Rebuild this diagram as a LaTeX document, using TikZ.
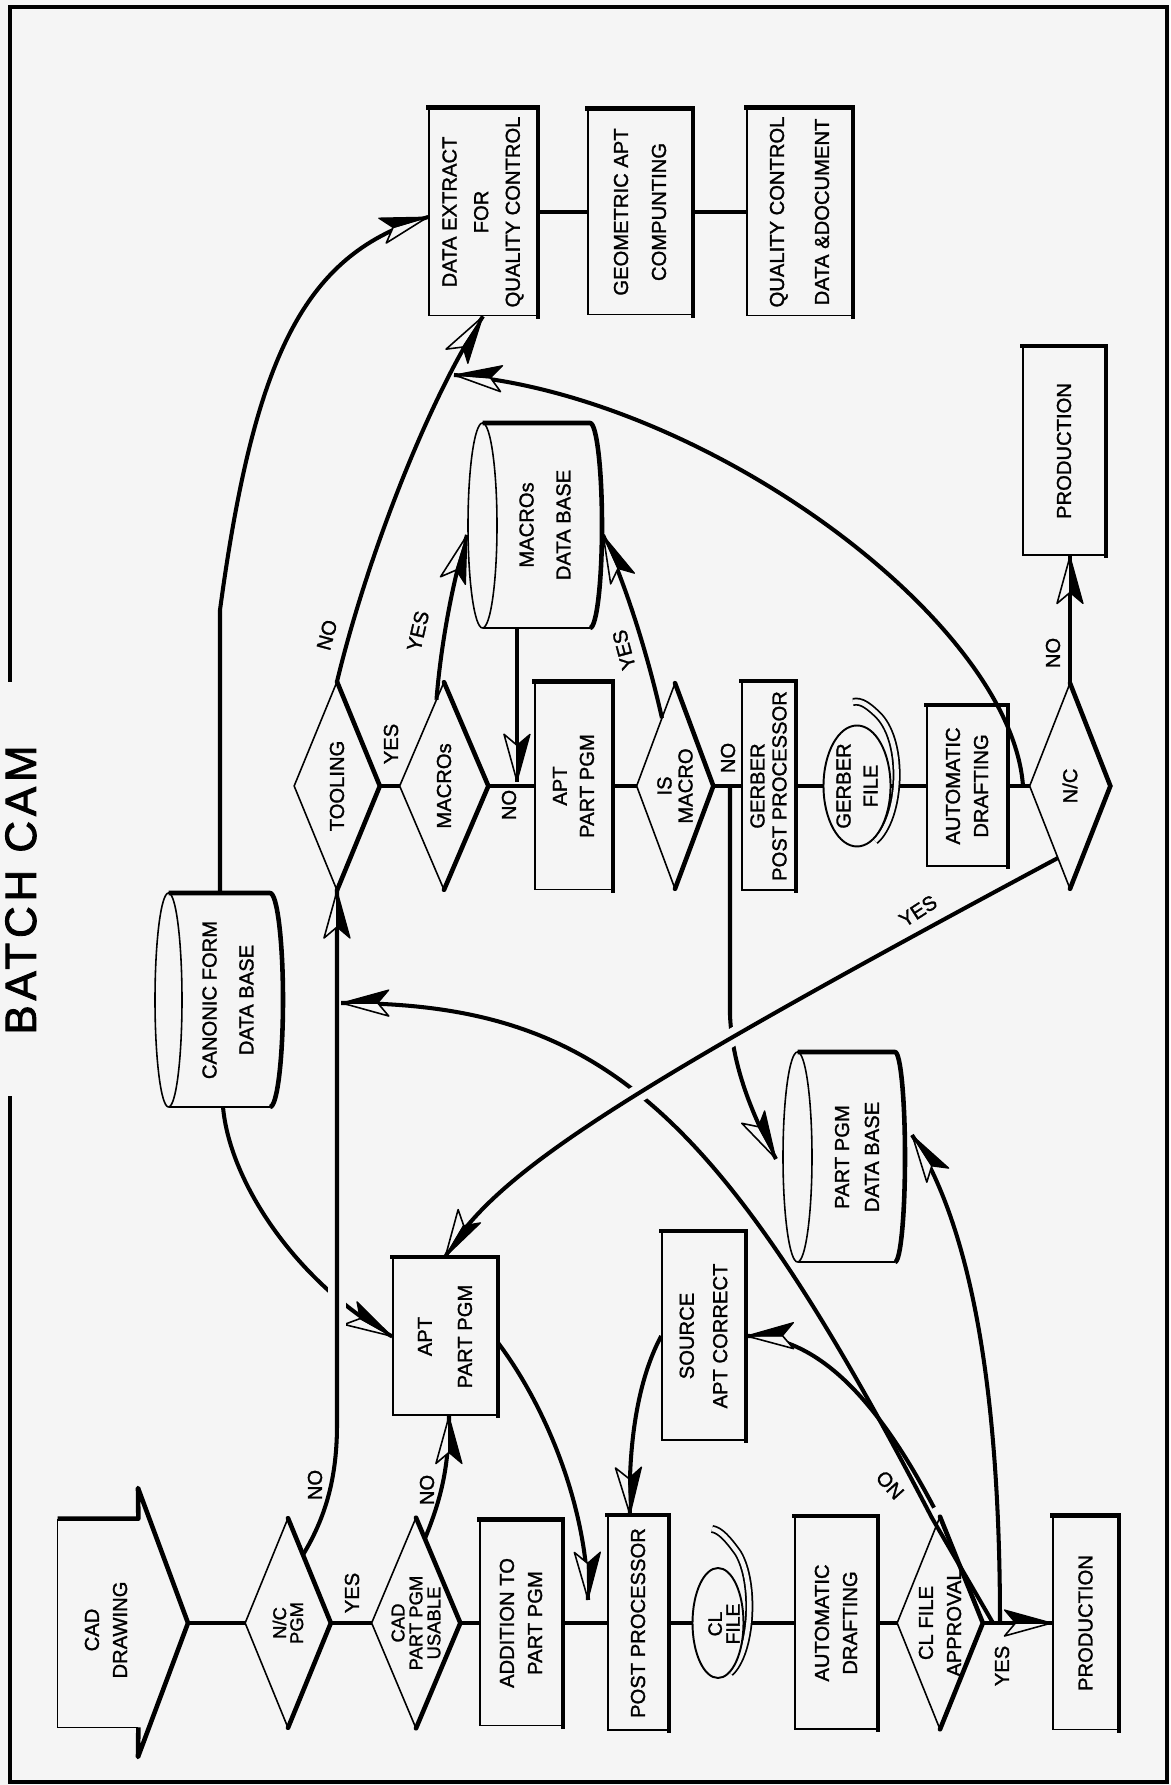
\documentclass[tikz,border=0pt]{standalone}
\usepackage{fontspec}
\setmainfont{Liberation Sans}[FakeBold=1.4]
\newfontfamily\titlefont[LetterSpace=11,FakeBold=2]{Liberation Sans}
\usetikzlibrary{calc,shapes.geometric,decorations.markings}
\pgfdeclarelayer{paperlayer}
\pgfdeclarelayer{bg}
\pgfsetlayers{paperlayer,bg,main}
\colorlet{paper}{white!96!black}
\newcommand\fsz[2]{\fontsize{#1}{#2}\selectfont}
% drum-shaped data base: U1, U2, centre of the top ellipse, its half height, end of the sides, depth of the bottom bulge
\newcommand\dbdrum[6]{%
  \draw[thn] ({(#1+#2)/2},#3) ellipse [x radius={(#2-#1)/2*0.02cm}, y radius={#4*0.02cm}];
  \draw[thn] (#1,#3) -- (#1,#5);
  \draw[thk, line join=round] (#2,#3) -- (#2,#5) arc [start angle=0, end angle=-180, x radius={(#2-#1)/2*0.02cm}, y radius={#6*0.02cm}];
}
\tikzset{
  thn/.style={line width=0.9pt},
  thk/.style={line width=2.6pt},
  conn/.style={line width=2.6pt},
  crv/.style={line width=2.3pt},
  halo/.style={preaction={draw=paper, line width=10pt}},
  txt/.style={inner sep=0pt, align=center, font=\fsz{11.5}{17}},
  frm/.style 2 args={txt, minimum width=#1*0.02cm, minimum height=#2*0.02cm},
  box/.style 2 args={frm={#1}{#2}, draw, thn},
  reel/.style 2 args={ellipse, draw, line width=1.1pt, fill=paper, inner sep=0pt,
    minimum width=#1*0.02cm, minimum height=#2*0.02cm},
  band/.style={draw=black, double=paper, double distance=0.09cm, line width=1pt},
  lbl/.style={txt, font=\fsz{11.5}{12}},
  blackhalf/.style={fill=black, draw=black, line width=0.7pt, line join=round},
  whitehalf/.style={fill=paper, draw=black, line width=0.9pt, line join=round},
  % dart heads: one half solid, the other open
  aL/.style={postaction={decorate, decoration={markings, mark=at position -0.4pt with {
      \path[whitehalf] (0,0) -- (-36,0) -- (-47,-13) -- cycle;
      \path[blackhalf] (0,0) -- (-47,13) -- (-36,0) -- cycle;}}}},
  aR/.style={postaction={decorate, decoration={markings, mark=at position -0.4pt with {
      \path[whitehalf] (0,0) -- (-36,0) -- (-47,13) -- cycle;
      \path[blackhalf] (0,0) -- (-47,-13) -- (-36,0) -- cycle;}}}},
}
\begin{document}
\begin{tikzpicture}[x=0.02cm, y=0.02cm]
\useasboundingbox (0,0) rectangle (1170,1785);
\begin{pgfonlayer}{paperlayer}
  \fill[paper] (0,0) rectangle (1170,1785);
\end{pgfonlayer}
\begin{scope}[shift={(1170,0)}, rotate=90, transform shape]

% border with the title set into its upper edge
\draw[thk, line cap=rect] (687,1160) -- (3,1160) -- (3,3) -- (1778,3) -- (1778,1160) -- (1105,1160);
\node[txt, font=\titlefont\fsz{25}{25}, anchor=base] (title) at (895,1134) {BATCH CAM};

% ---------------- main flow
\node[frm={208}{80}] (cad) at (162,1072) {};
\node[txt, font=\fsz{11.5}{16}] (cadtxt) at (155,1064) {CAD\\DRAWING};
\coordinate (cadtip) at (162,982);
\draw[thn] (cad.south west) -- (cad.north west) -- (cad.north east);
\draw[thk, line join=round] (cad.north east) -- (cad.south east) -- (297,1032) -- (cadtip) -- (28,1032) -- (cad.south west);

\node[frm={209}{85}, font=\fsz{10.5}{9.7}] (ncpgm) at (162,882) {N/C\\PGM};
\node[frm={210}{88}, font=\fsz{10.5}{10.2}] (usable) at (162,754) {CAD\\PART PGM\\USABLE};
\node[box={205}{82}, font=\fsz{11.5}{16}] (addition) at (162,649) {ADDITION TO\\PART PGM};
\node[box={214}{60}] (post) at (162,532) {POST PROCESSOR};
\coordinate (clc) at (162,452);
\draw[band] ($(clc)+(-50,-12)$) .. controls ($(clc)+(-30,-34)$) and ($(clc)+(40,-38)$) .. ($(clc)+(70,-20)$)
   .. controls ($(clc)+(84,-10)$) and ($(clc)+(93,-2)$) .. ($(clc)+(94,6)$);
\node[reel={110}{51}] (clfile) at (clc) {};
\node[txt, font=\fsz{11}{10.2}] (cltxt) at ($(clc)+(-1,-6)$) {CL\\FILE};
\node[box={212}{82}, font=\fsz{11.5}{16}] (draftL) at (162,334) {AUTOMATIC\\DRAFTING};
\node[frm={212}{85}, font=\fsz{11.5}{16}] (appr) at (162,230) {CL FILE\\APPROVAL};
\node[box={213}{65}] (prodL) at (162,84.5) {PRODUCTION};

% ---------------- middle
\node[box={157}{104}, font=\fsz{11.5}{22.8}] (aptL) at (448.5,725) {APT\\PART PGM};
\node[box={208}{83}, font=\fsz{11.5}{19}] (src) at (449,466.5) {SOURCE\\APT CORRECT};
\dbdrum{523}{733}{372.5}{14.5}{275}{10}
\node[txt] (pdb) at (628,313) {PART PGM\\DATA BASE};
\dbdrum{678}{892}{1001.5}{13.5}{900}{13}
\node[txt, font=\fsz{11.5}{21}] (cdb) at (785,942) {CANONIC FORM\\DATA BASE};

% ---------------- second flow
\node[frm={208}{85}] (tool) at (999,833) {TOOLING};
\node[frm={207}{88}] (macros) at (999,726) {MACROs};
\dbdrum{1157}{1362}{687.5}{14.5}{580}{12}
\node[txt, font=\fsz{11.5}{21}] (mdb) at (1260,625) {MACROs\\DATA BASE};
\node[box={207}{77}, font=\fsz{11.5}{15.4}] (aptU) at (999,596.5) {APT\\PART PGM};
\node[frm={205}{76}, font=\fsz{11.5}{12}] (ismacro) at (999,495) {IS\\MACRO};
\node[box={208}{53}, font=\fsz{11.5}{12.5}] (gerber) at (999,401.5) {GERBER\\POST PROCESSOR};
\coordinate (gc) at (999,313);
\draw[band] ($(gc)+(-55,-18)$) .. controls ($(gc)+(-32,-44)$) and ($(gc)+(42,-48)$) .. ($(gc)+(70,-22)$)
   .. controls ($(gc)+(80,-12)$) and ($(gc)+(86,-4)$) .. ($(gc)+(84,4)$);
\node[reel={121}{67}] (gfile) at (gc) {};
\node[txt, font=\fsz{11.5}{15.4}] (gtxt) at (gc) {GERBER\\FILE};
\node[box={160}{80}, font=\fsz{11.5}{16}] (draftU) at (999,203) {AUTOMATIC\\DRAFTING};
\node[frm={205}{80}] (nc) at (999,100) {N/C};
\node[box={208}{82}] (prodU) at (1334,106) {PRODUCTION};

% ---------------- quality control branch
\node[box={207}{108}, font=\fsz{11.5}{18}] (dext) at (1573,687) {DATA EXTRACT\\FOR\\QUALITY CONTROL};
\node[box={205}{104}, font=\fsz{11.5}{21.6}] (geo) at (1573,530) {GEOMETRIC APT\\COMPUNTING};
\node[box={207}{105}, font=\fsz{11.5}{25.6}] (qc) at (1573,370.5) {QUALITY CONTROL\\DATA \&DOCUMENT};

% decision outlines, heavier on the shadow side
\foreach \n in {ncpgm,usable,appr,tool,macros,ismacro,nc}{
  \draw[thn] (\n.north) -- (\n.east) -- (\n.south) -- (\n.west) -- cycle;
  \draw[thk, line cap=round] (\n.east) -- (\n.south) -- (\n.west);
}
\foreach \n in {addition,post,draftL,prodL,aptL,src,aptU,gerber,draftU,prodU,dext,geo,qc}{
  \draw[thk, line cap=rect] (\n.north east) -- (\n.south east) -- (\n.south west);
}

% branch labels
\node[lbl] (t1) at (192,818) {YES};
\node[lbl] (t2) at (300,855) {NO};
\node[lbl] (t3) at (295,743) {NO};
\node[lbl] (t4) at (119,168) {YES};
\node[lbl, rotate=42] (t5) at (300,280) {NO};
\node[lbl, rotate=-57] (t6) at (874,252) {YES};
\node[lbl, rotate=-15] (t7) at (1150,843) {NO};
\node[lbl] (t8) at (1041,779) {YES};
\node[lbl, rotate=-13] (t9) at (1154,752) {YES};
\node[lbl] (t10) at (980,661) {NO};
\node[lbl, rotate=15] (t11) at (1135,546) {YES};
\node[lbl] (t12) at (1027,442) {NO};
\node[lbl] (t13) at (1132,117) {NO};

% connector end points
\coordinate (ncpgmNO) at ($(ncpgm.east)!0.35!(ncpgm.south)$);
\coordinate (usableNO) at ($(usable.east)!0.2!(usable.south)$);
\coordinate (ya) at (162,177);
\coordinate (yc) at (162,170);
\coordinate (apprNO) at ($(appr.east)+(9,6)$);
\coordinate (ta) at (782,829);
\coordinate (apIn) at (185,582);
\coordinate (postIn) at ($(post.east)+(0,8)$);
\coordinate (ncTop) at (999,147);
\coordinate (dIn) at (1410,716);
\coordinate (macrosYES) at ($(macros.north)!0.83!(macros.east)$);
\coordinate (isYES) at ($(ismacro.north)!0.66!(ismacro.east)$);
\coordinate (mdbIn) at (1003,653);
\coordinate (isNO) at (999,440);
\coordinate (ncYES) at ($(nc.west)!0.3!(nc.north)$);
\coordinate (pdbT) at (626,394);
\coordinate (pdbB) at (650,258);
\coordinate (cdbL) at (678,947);
\coordinate (cdbR) at (892,950);
\coordinate (mdbL) at (1157,653);
\coordinate (mdbT) at (1250,703);
\coordinate (mdbB) at (1250,567);

\begin{pgfonlayer}{bg}
  % straight runs
  \draw[conn] (cadtip) -- (ncpgm.north);
  \draw[conn] (ncpgm.south) -- (usable.north);
  \draw[conn] (usable.south) -- (addition.north);
  \draw[conn] (addition.south) -- (post.north);
  \draw[conn] (post.south) -- (clfile.north);
  \draw[conn] (clfile.south) -- (draftL.north);
  \draw[conn] (draftL.south) -- (appr.north);
  \draw[conn, aL] (appr.south) -- (prodL.north);
  \draw[conn] (tool.south) -- (macros.north);
  \draw[conn] (macros.south) -- (aptU.north);
  \draw[conn] (aptU.south) -- (ismacro.north);
  \draw[conn] (ismacro.south) -- (gerber.north);
  \draw[conn] (gerber.south) -- (gfile.north);
  \draw[conn] (gfile.south) -- (draftU.north);
  \draw[conn] (draftU.south) -- (nc.north);
  \draw[conn, aR] (nc.east) -- (nc.east -| prodU.west);
  \draw[conn] (dext.south) -- (geo.north);
  \draw[conn] (geo.south) -- (qc.north);
  \draw[conn, aL] (mdbL) -- (mdbIn);
  % curved branches
  \draw[crv, aL] (cdbL) .. controls (600,940) and (500,870) .. (aptL.north);
  \draw[crv, halo, aR] (ncpgmNO) .. controls (262,848) and (300,833) .. (360,833) -- (tool.west);
  \draw[crv, aR] (ya) -- (267,238) .. controls (678,452) and (782,570) .. (ta);
  \draw[crv, aR] (apprNO) .. controls (380,290) and (450,350) .. (src.south);
  \draw[crv, aR] (yc) .. controls (400,170) and (560,200) .. (pdbB);
  \draw[crv, aL] ($(aptL.south)+(-6,0)$) .. controls (380,625) and (280,583) .. (apIn);
  \draw[crv, aL] (src.north) .. controls (400,535) and (330,542) .. (postIn);
  \draw[crv, aR] (usableNO) .. controls (288,728) and (320,721) .. ($(aptL.west)+(0,-4)$);
  \draw[crv, aR] (tool.east) .. controls (1220,805) and (1380,745) .. (dext.west);
  \draw[crv, aR] (ncTop) .. controls (1165,159) and (1391,467) .. (dIn);
  \draw[crv, aL] (cdbR) -- (1175,950) .. controls (1434,915) and (1532,863.5) .. ($(dext.north)+(-5,0)$);
  \draw[crv, aR] (macrosYES) .. controls (1130,730) and (1195,720) .. (mdbT);
  \draw[crv, aR] (isYES) .. controls (1120,520) and (1190,540) .. (mdbB);
  \draw[crv, aL] (isNO) -- (770,440) .. controls (720,438) and (670,418) .. (pdbT);
  \draw[crv, halo, aL] (ncYES) .. controls (689,556) and (611,676) .. (aptL.east);
\end{pgfonlayer}
\end{scope}
\end{tikzpicture}
\end{document}
